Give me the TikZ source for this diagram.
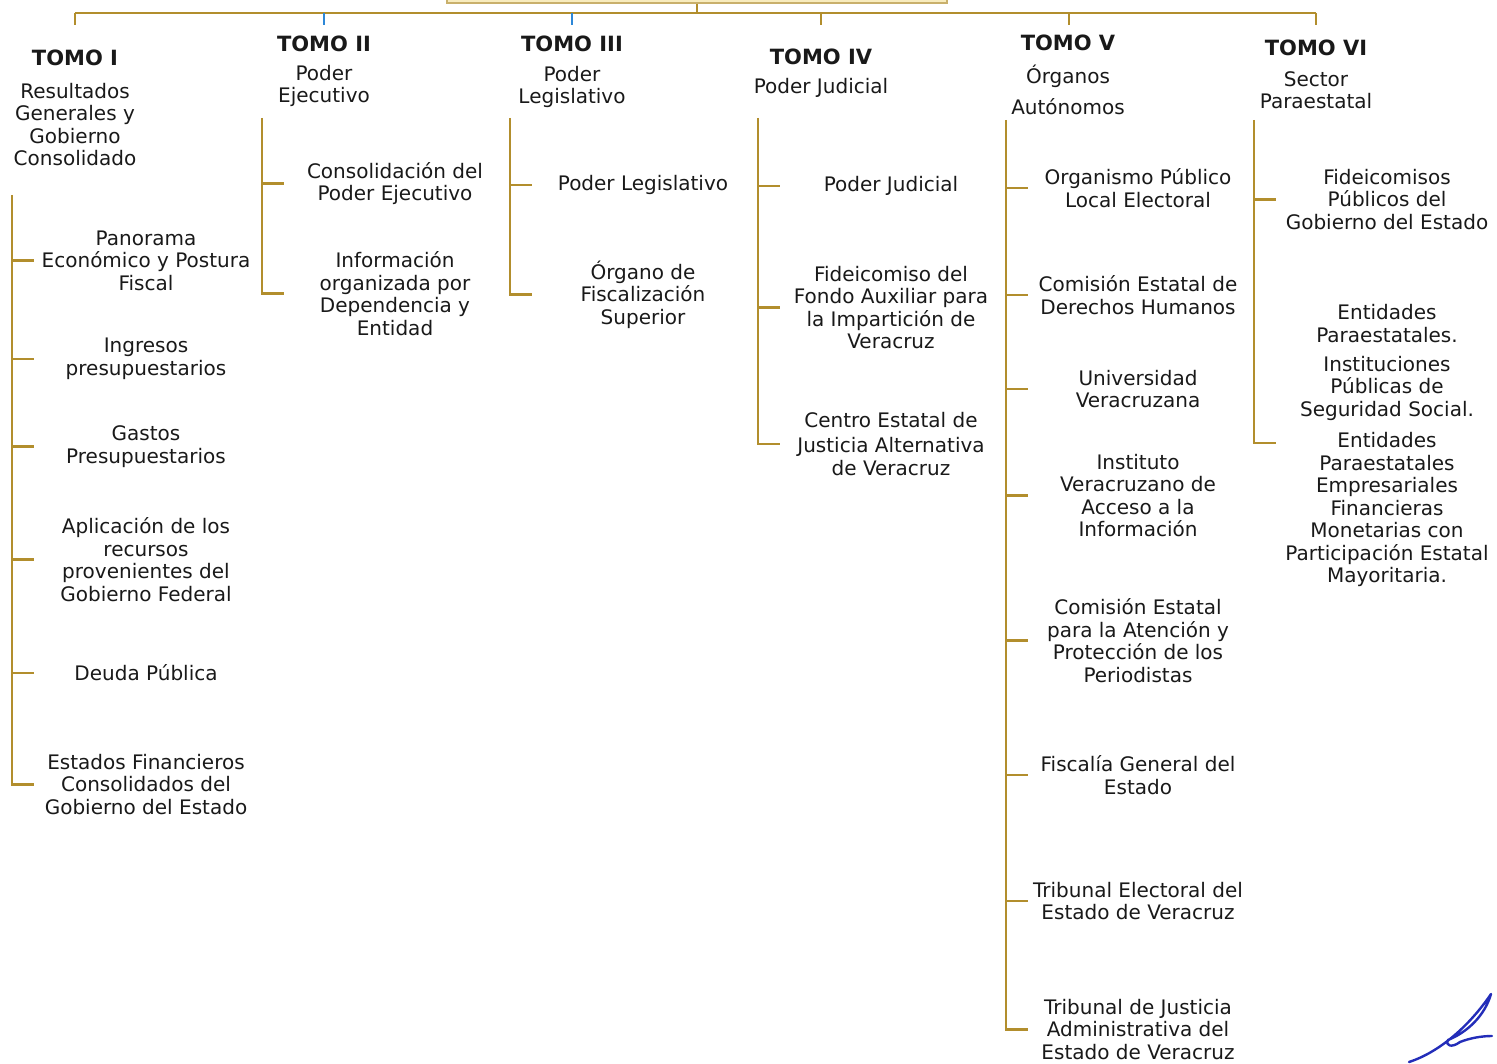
\documentclass[tikz,border=0pt]{standalone}
\usepackage{xcolor}
\usepackage{fontspec}
\setmainfont{DejaVu Sans}
\usepackage{tikz}

\definecolor{oro}{RGB}{178,142,45}
\definecolor{azul}{RGB}{45,135,215}
\definecolor{tinta}{RGB}{25,25,25}
\definecolor{caja}{RGB}{248,236,190}
\definecolor{firma}{RGB}{35,45,185}

\begin{document}
\begin{tikzpicture}[x=1pt,y=-1pt,
    tomo/.style={font=\fontsize{21}{24}\selectfont\bfseries, text=tinta, inner sep=0pt},
    txt/.style={font=\fontsize{20}{22.5}\selectfont, text=tinta, align=center, inner sep=0pt},
    rama/.style={draw=oro, line width=2.4pt}]
    \useasboundingbox (0,0) rectangle (1497,1064);

    % top box and bar
    \node[draw=oro!70, fill=caja, line width=2pt, minimum width=500pt, minimum height=40pt] (raiz) at (697,-17) {};
    \coordinate (b1) at (75,13);
    \coordinate (b2) at (324,13);
    \coordinate (b3) at (572,13);
    \coordinate (b4) at (821,13);
    \coordinate (b5) at (1069,13);
    \coordinate (b6) at (1316,13);
    \draw[rama] (b1) -- (b6);
    \draw[rama] (raiz.south) -- (raiz.south |- b1);
    \foreach \b in {b1,b4,b5,b6}
        \draw[rama] (\b) -- ++(0,12);
    \foreach \b in {b2,b3}
        \draw[rama, draw=azul] (\b) -- ++(0,12);

    % tomo headers with absolute coordinates
    \node[tomo] (tomoI) at (75,58) {TOMO I};
    \node[txt] (descI) at (75,124.5) {Resultados\\Generales y\\Gobierno\\Consolidado};
    \node[tomo] (tomoII) at (324,44) {TOMO II};
    \node[txt] (descII) at (324,86) {Poder\\Ejecutivo};
    \node[tomo] (tomoIII) at (572,44) {TOMO III};
    \node[txt] (descIII) at (572,87) {Poder\\Legislativo};
    \node[tomo] (tomoIV) at (821,57) {TOMO IV};
    \node[txt] (descIV) at (821,88) {Poder Judicial};
    \node[tomo] (tomoV) at (1068,43) {TOMO V};
    \node[txt] (descV) at (1068,89.5) {Órganos\\[8.5pt]Autónomos};
    \node[tomo] (tomoVI) at (1316,48) {TOMO VI};
    \node[txt] (descVI) at (1316,90) {Sector\\Paraestatal};

    % tomo I
    \node[txt] (n11) at (146,260.5) {Panorama\\Económico y Postura\\Fiscal};
    \node[txt] (n12) at (146,359) {Ingresos\\presupuestarios};
    \node[txt] (n13) at (146,446.5) {Gastos\\Presupuestarios};
    \node[txt] (n14) at (146,559.5) {Aplicación de los\\recursos\\provenientes del\\Gobierno Federal};
    \node[txt] (n15) at (146,673) {Deuda Pública};
    \node[txt] (n16) at (146,784.5) {Estados Financieros\\Consolidados del\\Gobierno del Estado};
    \coordinate (t1) at (12,195);
    \draw[rama] (t1) -- (t1 |- n16) -- ++(22,0);
    \foreach \n in {n11,n12,n13,n14,n15}
        \draw[rama] (t1 |- \n) -- ++(22,0);

    % tomo II
    \node[txt] (n21) at (395,183.5) {Consolidación del\\Poder Ejecutivo};
    \node[txt] (n22) at (395,293.5) {Información\\organizada por\\Dependencia y\\Entidad};
    \coordinate (t2) at (262,118);
    \draw[rama] (t2) -- (t2 |- n22) -- ++(22,0);
    \draw[rama] (t2 |- n21) -- ++(22,0);

    % tomo III
    \node[txt] (n31) at (643,185) {Poder Legislativo};
    \node[txt] (n32) at (643,294.5) {Órgano de\\Fiscalización\\Superior};
    \coordinate (t3) at (510,118);
    \draw[rama] (t3) -- (t3 |- n32) -- ++(22,0);
    \draw[rama] (t3 |- n31) -- ++(22,0);

    % tomo IV
    \node[txt] (n41) at (891,186) {Poder Judicial};
    \node[txt] (n42) at (891,307.5) {Fideicomiso del\\Fondo Auxiliar para\\la Impartición de\\Veracruz};
    \node[txt] (n43) at (891,444) {Centro Estatal de\\[2.5pt]Justicia Alternativa\\de Veracruz};
    \coordinate (t4) at (758,118);
    \draw[rama] (t4) -- (t4 |- n43) -- ++(22,0);
    \foreach \n in {n41,n42}
        \draw[rama] (t4 |- \n) -- ++(22,0);

    % tomo V
    \node[txt] (n51) at (1138,188) {Organismo Público\\Local Electoral};
    \node[txt] (n52) at (1138,295) {Comisión Estatal de\\Derechos Humanos};
    \node[txt] (n53) at (1138,389) {Universidad\\Veracruzana};
    \node[txt] (n54) at (1138,495.5) {Instituto\\Veracruzano de\\Acceso a la\\Información};
    \node[txt] (n55) at (1138,640.5) {Comisión Estatal\\para la Atención y\\Protección de los\\Periodistas};
    \node[txt] (n56) at (1138,775) {Fiscalía General del\\Estado};
    \node[txt] (n57) at (1138,901) {Tribunal Electoral del\\Estado de Veracruz};
    \node[txt] (n58) at (1138,1029.5) {Tribunal de Justicia\\Administrativa del\\Estado de Veracruz};
    \coordinate (t5) at (1006,120);
    \draw[rama] (t5) -- (t5 |- n58) -- ++(22,0);
    \foreach \n in {n51,n52,n53,n54,n55,n56,n57}
        \draw[rama] (t5 |- \n) -- ++(22,0);

    % tomo VI
    \node[txt] (n61) at (1387,199.5) {Fideicomisos\\Públicos del\\Gobierno del Estado};
    \node[txt] (n62) at (1387,323.5) {Entidades\\Paraestatales.};
    \node[txt] (n63) at (1387,388) {Instituciones\\Públicas de\\Seguridad Social.};
    \node[txt] (n64) at (1387,509.5) {Entidades\\Paraestatales\\Empresariales\\Financieras\\Monetarias con\\Participación Estatal\\Mayoritaria.};
    \coordinate (t6) at (1254,120);
    \coordinate (t6end) at (1254,443);
    \draw[rama] (t6) -- (t6end) -- ++(22,0);
    \draw[rama] (t6 |- n61) -- ++(22,0);

    % signature
    \draw[firma, line width=2.4pt, line cap=round, line join=round]
        (1409,1062) .. controls (1440,1052) and (1470,1025) .. (1491,994)
        .. controls (1485,1015) and (1468,1032) .. (1448,1040)
        .. controls (1445,1046) and (1452,1048) .. (1460,1042)
        .. controls (1470,1038) and (1482,1036) .. (1492,1036);
\end{tikzpicture}
\end{document}
